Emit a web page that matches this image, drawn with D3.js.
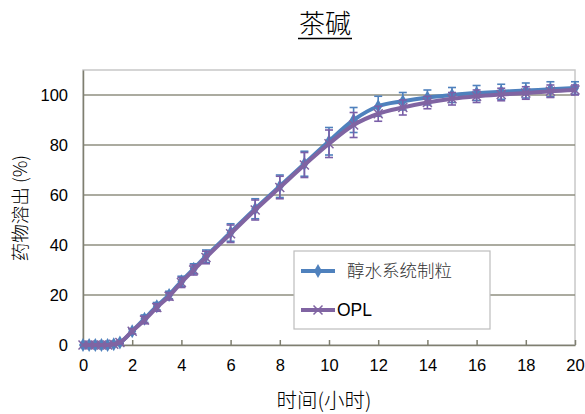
<!DOCTYPE html>
<html><head><meta charset="utf-8">
<script src="https://cdn.jsdelivr.net/npm/d3@7"></script>
<style>body{margin:0;background:#fff}svg{display:block}</style>
</head><body>
<svg id="c" width="585" height="414"></svg>
<script>
const titleText = "茶碱";
const xLabel = "时间(小时)";
const yLabel = "药物溶出 (%)";
const seriesNames = ["醇水系统制粒", "OPL"];
const times = [0,0.25,0.5,0.75,1,1.25,1.5,2,2.5,3,3.5,4,4.5,5,6,7,8,9,10,11,12,13,14,15,16,17,18,19,20];
const blueVals = [0,0,0,0,0,0.3,1,5.5,10.5,15.5,20,25.5,30.5,35.5,45,54.5,63.5,72.5,81.5,90,95.5,97.5,99,100,100.8,101.3,101.8,102.3,102.8];
const purpleVals = [0,0,0,0,0,0.3,1,5.5,10,15,19.5,25,30,35,44.5,54,63,72,80.5,88,92.5,95,97,98.5,99.5,100.2,100.8,101.5,102];
const blueErr = [0,0,0,0,0,0,0.5,1,1.5,1.5,1.5,2,2,2.5,3.5,4,4.5,5,5.5,5,4,3.5,3,3,3,3,3,3,2.5];
const purpleErr = [0,0,0,0,0,0,0.5,1,1.5,1.5,1.5,2,2,2.5,3.5,4,4.5,5,5.5,5,3,3,2.5,2.5,2.5,2.5,2.5,2.5,2];
const xTicks = [0,2,4,6,8,10,12,14,16,18,20];
const yTicks = [0,20,40,60,80,100];

const svg = d3.select("#c");
const L = 83, R = 575, T = 70, B = 345;
const x = d3.scaleLinear().domain([0,20]).range([L,R]);
const y = d3.scaleLinear().domain([0,110]).range([B,T]);

svg.append("rect").attr("x",L).attr("y",T).attr("width",R-L).attr("height",B-T)
  .attr("fill","none").attr("stroke","#c8c8c8").attr("stroke-width",1.5);

svg.append("g").selectAll("line").data(yTicks.filter(d=>d>0)).join("line")
  .attr("x1",L).attr("x2",R).attr("y1",d=>y(d)).attr("y2",d=>y(d))
  .attr("stroke","#8f8f80").attr("stroke-width",1.5);

const xAxis = svg.append("g").attr("transform",`translate(0,${B})`)
  .call(d3.axisBottom(x).tickValues(xTicks).tickSizeInner(-5).tickSizeOuter(0).tickPadding(14));
const yAxis = svg.append("g").attr("transform",`translate(${L},0)`)
  .call(d3.axisLeft(y).tickValues(yTicks).tickSizeInner(0).tickSizeOuter(0).tickPadding(15));
[xAxis,yAxis].forEach(a=>{
  a.select(".domain").attr("stroke","#7f7f70").attr("stroke-width",1.5);
  a.selectAll(".tick line").attr("stroke","#7f7f70").attr("stroke-width",1.5);
  a.selectAll("text").attr("font-family","Liberation Sans, Arial, sans-serif").attr("font-size",16.5).attr("fill","#000");
});

const series = [
  {name:seriesNames[0], vals:blueVals, err:blueErr, color:"#4F81BD", errColor:"#4F81BD", marker:"diamond"},
  {name:seriesNames[1], vals:purpleVals, err:purpleErr, color:"#8064A2", errColor:"#7A5FA8", marker:"x"}
];
const line = d3.line().x(d=>x(d[0])).y(d=>y(d[1])).curve(d3.curveMonotoneX);
const diamond = d3.symbol().type(d3.symbolDiamond).size(55);

series.forEach(s=>{
  const pts = times.map((t,i)=>[t,s.vals[i],s.err[i]]);
  const g = svg.append("g");
  const eb = g.append("g").attr("stroke",s.errColor).attr("stroke-width",1.6);
  pts.filter(p=>p[2]>0).forEach(p=>{
    eb.append("line").attr("x1",x(p[0])).attr("x2",x(p[0])).attr("y1",y(p[1]+p[2])).attr("y2",y(p[1]-p[2]));
    [p[1]+p[2],p[1]-p[2]].forEach(v=>{
      eb.append("line").attr("x1",x(p[0])-4).attr("x2",x(p[0])+4).attr("y1",y(v)).attr("y2",y(v));
    });
  });
  g.append("path").datum(pts).attr("d",line).attr("fill","none")
    .attr("stroke",s.color).attr("stroke-width",4).attr("stroke-linejoin","round");
  if(s.marker==="diamond"){
    g.selectAll("path.m").data(pts).join("path").attr("class","m")
      .attr("d",diamond).attr("transform",d=>`translate(${x(d[0])},${y(d[1])})`).attr("fill",s.color);
  } else {
    g.selectAll("path.m").data(pts).join("path").attr("class","m")
      .attr("d","M-4.5,-4.5L4.5,4.5M-4.5,4.5L4.5,-4.5").attr("transform",d=>`translate(${x(d[0])},${y(d[1])})`)
      .attr("stroke",s.color).attr("stroke-width",1.5).attr("fill","none");
  }
});

const lg = svg.append("g");
lg.append("rect").attr("x",294).attr("y",251).attr("width",196).attr("height",78)
  .attr("fill","#fff").attr("stroke","#bdbdbd").attr("stroke-width",1.2);
series.forEach((s,i)=>{
  const ly = 271 + i*39;
  lg.append("line").attr("x1",301).attr("x2",335).attr("y1",ly).attr("y2",ly)
    .attr("stroke",s.color).attr("stroke-width",4);
  if(s.marker==="diamond"){
    lg.append("path").attr("d",diamond).attr("transform",`translate(318,${ly})`).attr("fill",s.color);
  } else {
    lg.append("path").attr("d","M-4.5,-4.5L4.5,4.5M-4.5,4.5L4.5,-4.5").attr("transform",`translate(318,${ly})`)
      .attr("stroke",s.color).attr("stroke-width",1.5);
  }
  lg.append("text").attr("x", i===0?347:337).attr("y",ly).attr("dy","0.35em")
    .attr("font-family", i===0?"Noto Sans CJK SC, sans-serif":"Liberation Sans, Arial, sans-serif")
    .attr("font-size",17.5).attr("font-weight", i===0?300:400).attr("fill", i===0?"#333":"#000").text(s.name);
});

svg.append("text").attr("x",325).attr("y",33).attr("text-anchor","middle")
  .attr("font-family","Noto Sans CJK SC, sans-serif").attr("font-weight",300).attr("font-size",26).attr("fill","#000").text(titleText);
svg.append("line").attr("x1",298).attr("x2",352).attr("y1",38.5).attr("y2",38.5).attr("stroke","#000").attr("stroke-width",1.5);

svg.append("text").attr("x",324).attr("y",408).attr("text-anchor","middle")
  .attr("font-family","Noto Sans CJK SC, sans-serif").attr("font-weight",300).attr("font-size",20.5).attr("fill","#000").text(xLabel);
svg.append("text").attr("transform","translate(27,208) rotate(-90)").attr("text-anchor","middle")
  .attr("font-family","Noto Sans CJK SC, sans-serif").attr("font-weight",300).attr("font-size",18.5).attr("fill","#000").text(yLabel);
</script>
</body></html>
